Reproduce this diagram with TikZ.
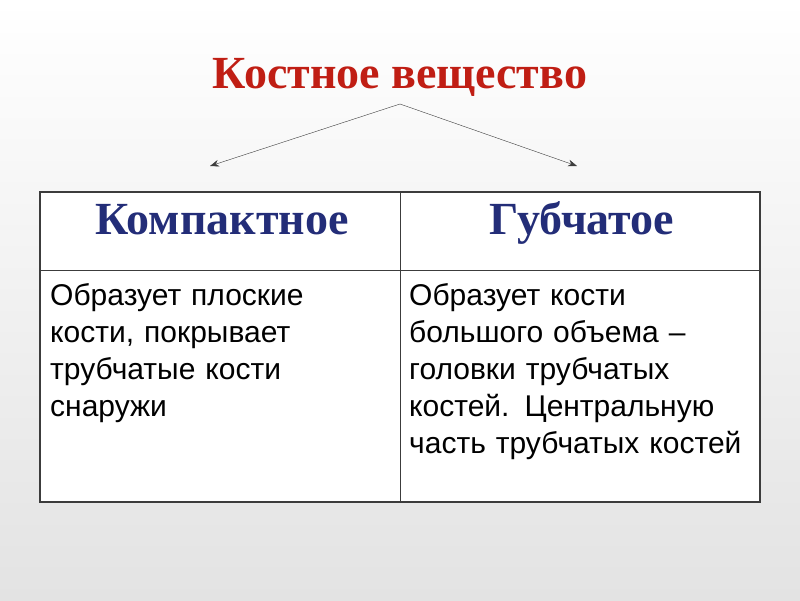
\documentclass[tikz,border=0pt]{standalone}
\usepackage{fontspec}
\setmainfont{Liberation Serif}
\newfontfamily\bodyfont{Liberation Sans}
\definecolor{titlered}{RGB}{192, 30, 20}
\definecolor{headblue}{RGB}{35, 45, 120}
\definecolor{gridgray}{RGB}{60, 60, 60}
\usetikzlibrary{arrows.meta}

\begin{document}
\begin{tikzpicture}[x=1pt, y=-1pt,
  headtext/.style={font=\fontsize{46}{50}\selectfont\bfseries, text=headblue, anchor=base},
  celltext/.style={font=\bodyfont\fontsize{30}{37}\selectfont, align=left, text width=350pt, anchor=base west, inner sep=0pt}]
\shade[top color=white, bottom color=gray!22] (0,0) rectangle (800,600);
\useasboundingbox (0,0) rectangle (800,600);

\node[font=\fontsize{46}{50}\selectfont\bfseries, text=titlered, anchor=base] (title) at (400,88) {Костное вещество};
\coordinate (top) at (400,104);
\coordinate (leftend) at (210,166);
\coordinate (rightend) at (577,166);
\draw[-{Stealth[length=9pt]}, gridgray] (top) -- (leftend);
\draw[-{Stealth[length=9pt]}, gridgray] (top) -- (rightend);

% table
\fill[white] (40,192) rectangle (760,502);
\draw[gridgray, line width=1.5pt] (40,192) rectangle (760,502);
\draw[gridgray, line width=1pt] (40,270) -- (760,270);
\draw[gridgray, line width=1pt] (400,192) -- (400,502);

\node[headtext] (compact) at (222,234) {Компактное};
\node[headtext] (spongy) at (582,234) {Губчатое};

\node[celltext] (leftcell) at (50,305) {Образует плоские\\кости, покрывает\\трубчатые кости\\снаружи};
\node[celltext] (rightcell) at (409,305) {Образует кости\\большого объема –\\головки трубчатых\\костей. Центральную\\часть трубчатых костей};
\end{tikzpicture}
\end{document}
